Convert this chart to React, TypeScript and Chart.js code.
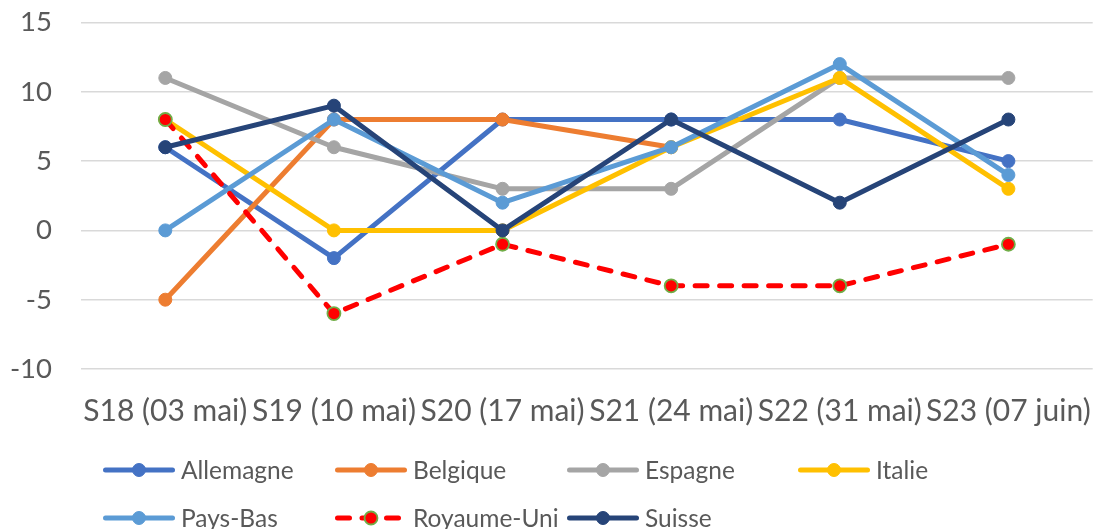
import React, { useEffect, useRef } from "react";
import { Chart, registerables } from "chart.js";

Chart.register(...registerables);

const categories = [
  "S18 (03 mai)",
  "S19 (10 mai)",
  "S20 (17 mai)",
  "S21 (24 mai)",
  "S22 (31 mai)",
  "S23 (07 juin)",
];

const allemagne = [6, -2, 8, 8, 8, 5];
const belgique = [-5, 8, 8, 6, null, null];
const espagne = [11, 6, 3, 3, 11, 11];
const italie = [8, 0, 0, 6, 11, 3];
const paysBas = [0, 8, 2, 6, 12, 4];
const royaumeUni = [8, -6, -1, -4, -4, -1];
const suisse = [6, 9, 0, 8, 2, 8];

const seriesNames = ["Allemagne", "Belgique", "Espagne", "Italie", "Pays-Bas", "Royaume-Uni", "Suisse"];
const seriesValues = [allemagne, belgique, espagne, italie, paysBas, royaumeUni, suisse];
const seriesColors = ["#4472C4", "#ED7D31", "#A5A5A5", "#FFC000", "#5B9BD5", "#FF0000", "#264478"];

const yMin = -10;
const yMax = 15;
const yStep = 5;

const FONT = "Lato, 'Liberation Sans', sans-serif";
const TEXT = "#595959";

const CANVAS_W = 1101;
const CANVAS_H = 529;

const legendPlugin = {
  id: "excelLegend",
  afterDraw(chart: any) {
    const ctx = chart.ctx;
    const cols = [103, 335, 567, 798];
    const rows = [470, 518];
    const lineLen = 72;
    ctx.save();
    chart.data.datasets.forEach((ds: any, i: number) => {
      const x = cols[i % 4];
      const y = rows[Math.floor(i / 4)];
      ctx.beginPath();
      ctx.strokeStyle = ds.borderColor;
      ctx.lineWidth = 5;
      ctx.lineCap = "round";
      ctx.setLineDash(ds.borderDash && ds.borderDash.length ? [12, 12.5] : []);
      ctx.moveTo(x + 2.5, y);
      ctx.lineTo(x + lineLen - 2.5, y);
      ctx.stroke();
      ctx.setLineDash([]);
      ctx.beginPath();
      ctx.arc(x + lineLen / 2, y, 6.5, 0, Math.PI * 2);
      ctx.fillStyle = ds.pointBackgroundColor;
      ctx.fill();
      ctx.lineWidth = ds.pointBorderWidth;
      ctx.strokeStyle = ds.pointBorderColor;
      ctx.stroke();
      ctx.fillStyle = TEXT;
      ctx.font = `24.5px ${FONT}`;
      ctx.textBaseline = "middle";
      ctx.textAlign = "left";
      ctx.fillText(ds.label, x + lineLen + 6, y + 1);
    });
    ctx.restore();
  },
};

export default function App() {
  const ref = useRef<HTMLCanvasElement>(null);
  useEffect(() => {
    if (!ref.current) return;
    const datasets = seriesNames.map((name, i) => {
      const isUK = name === "Royaume-Uni";
      return {
        label: name,
        data: seriesValues[i],
        borderColor: seriesColors[i],
        backgroundColor: seriesColors[i],
        borderWidth: 5,
        borderDash: isUK ? [12, 12.5] : [],
        borderCapStyle: "round" as const,
        borderJoinStyle: "round" as const,
        pointRadius: 6.5,
        pointHoverRadius: 6.5,
        pointBackgroundColor: seriesColors[i],
        pointBorderColor: isUK ? "#70AD47" : seriesColors[i],
        pointBorderWidth: isUK ? 1.8 : 1,
        tension: 0,
        spanGaps: false,
        order: seriesNames.length - i,
      };
    });
    const chart = new Chart(ref.current, {
      type: "line",
      data: { labels: categories, datasets },
      options: {
        animation: false,
        responsive: false,
        maintainAspectRatio: false,
        layout: { padding: { top: 22.5, right: 0, bottom: 0, left: 0 } },
        plugins: { legend: { display: false }, tooltip: { enabled: false } },
        scales: {
          x: {
            type: "category",
            offset: true,
            grid: { display: false, drawTicks: false },
            border: { display: false },
            ticks: {
              color: TEXT,
              font: { family: FONT, size: 30 },
              padding: 24,
              maxRotation: 0,
              autoSkip: false,
            },
            afterFit(scale: any) {
              scale.height = 160;
              scale.paddingLeft = 0;
              scale.paddingRight = 0;
            },
          },
          y: {
            min: yMin,
            max: yMax,
            grid: { color: "#D9D9D9", lineWidth: 1.5, drawTicks: false },
            border: { display: false },
            ticks: {
              stepSize: yStep,
              color: TEXT,
              font: { family: FONT, size: 27.5 },
              padding: 29,
            },
            afterFit(scale: any) {
              scale.width = 81;
              scale.paddingTop = 0;
              scale.paddingBottom = 0;
            },
          },
        },
      },
      plugins: [legendPlugin],
    });
    return () => chart.destroy();
  }, []);
  return (
    <div style={{ position: "fixed", left: 0, top: 0, width: 1093, height: 529, background: "#fff", overflow: "hidden" }}>
      <canvas
        ref={ref}
        width={CANVAS_W}
        height={CANVAS_H}
        style={{ width: CANVAS_W, height: CANVAS_H, display: "block" }}
      />
    </div>
  );
}
